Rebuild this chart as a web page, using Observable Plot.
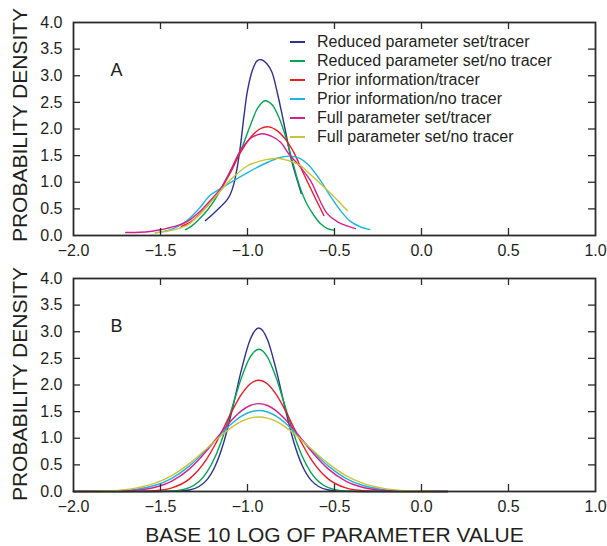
<!DOCTYPE html>
<html><head><meta charset="utf-8">
<script src="https://cdn.jsdelivr.net/npm/d3@7"></script>
<script src="https://cdn.jsdelivr.net/npm/@observablehq/plot@0.6"></script>
<style>
body{margin:0;background:#fff;font-family:"Liberation Sans",Arial,sans-serif;}
#wrap{position:relative;width:607px;height:546px;}
#wrap svg{display:block;}
#legend{position:absolute;left:290px;top:32px;font-size:16px;color:#231f20;}
.row{height:19px;display:flex;align-items:center;white-space:nowrap;}
.sw{width:15px;height:2px;margin-right:12px;display:inline-block;flex:none;}
.ylab{position:absolute;left:19px;font-size:21px;color:#231f20;white-space:nowrap;transform:translate(-50%,-50%) rotate(-90deg);line-height:1;}
</style></head><body><div id="wrap"><div id="legend"></div></div>
<script>
const seriesNames = ["Reduced parameter set/tracer","Reduced parameter set/no tracer","Prior information/tracer","Prior information/no tracer","Full parameter set/tracer","Full parameter set/no tracer"];
const seriesColors = ["#2e3192","#00a651","#ed1c24","#1cb5e0","#d4208f","#c9c33a"];
const xTicks = [-2,-1.5,-1,-0.5,0,0.5,1];
const yTicks = [0,0.5,1,1.5,2,2.5,3,3.5,4];

// Panel A: [x, density]
const aReducedTracer = [[-1.241,0.28],[-1.20,0.40],[-1.155,0.54],[-1.12,0.66],[-1.098,0.78],[-1.08,0.95],[-1.059,1.28],[-1.04,1.70],[-1.02,2.25],[-1.0,2.72],[-0.97,3.12],[-0.945,3.28],[-0.92,3.30],[-0.89,3.23],[-0.86,3.07],[-0.83,2.70],[-0.80,2.25],[-0.772,1.80],[-0.75,1.45],[-0.72,1.10],[-0.691,0.79]];
const aReducedNoTracer = [[-1.356,0.11],[-1.32,0.18],[-1.28,0.30],[-1.232,0.47],[-1.19,0.66],[-1.155,0.86],[-1.10,1.20],[-1.04,1.59],[-0.98,2.10],[-0.94,2.40],[-0.90,2.53],[-0.86,2.46],[-0.82,2.22],[-0.78,1.85],[-0.734,1.30],[-0.70,0.92],[-0.66,0.60],[-0.619,0.38],[-0.58,0.22],[-0.54,0.13],[-0.504,0.10]];
const aPriorTracer = [[-1.38,0.17],[-1.32,0.27],[-1.26,0.45],[-1.21,0.64],[-1.155,0.86],[-1.10,1.17],[-1.04,1.56],[-0.98,1.85],[-0.93,2.00],[-0.878,2.04],[-0.83,1.97],[-0.78,1.80],[-0.734,1.56],[-0.69,1.25],[-0.657,1.02],[-0.61,0.70],[-0.561,0.375]];
const aPriorNoTracer = [[-1.529,0.05],[-1.45,0.10],[-1.40,0.17],[-1.347,0.28],[-1.28,0.50],[-1.213,0.76],[-1.155,0.88],[-1.079,1.03],[-1.0,1.18],[-0.944,1.28],[-0.88,1.38],[-0.82,1.46],[-0.753,1.49],[-0.70,1.45],[-0.65,1.33],[-0.58,1.03],[-0.52,0.72],[-0.466,0.47],[-0.41,0.27],[-0.35,0.16],[-0.297,0.11]];
const aFullTracer = [[-1.70,0.056],[-1.62,0.06],[-1.55,0.08],[-1.50,0.107],[-1.42,0.17],[-1.347,0.26],[-1.28,0.43],[-1.213,0.66],[-1.155,0.88],[-1.10,1.20],[-1.04,1.60],[-0.98,1.83],[-0.916,1.91],[-0.86,1.86],[-0.81,1.75],[-0.76,1.52],[-0.70,1.30],[-0.638,1.03],[-0.59,0.70],[-0.542,0.41],[-0.48,0.25],[-0.42,0.17],[-0.379,0.13]];
const aFullNoTracer = [[-1.53,0.05],[-1.45,0.09],[-1.40,0.13],[-1.347,0.19],[-1.28,0.38],[-1.213,0.62],[-1.155,0.84],[-1.10,1.04],[-1.0,1.31],[-0.964,1.36],[-0.90,1.42],[-0.829,1.45],[-0.78,1.42],[-0.70,1.32],[-0.64,1.15],[-0.58,0.97],[-0.50,0.72],[-0.427,0.47]];

// Panel B: shared x values, density per series
const bX = [-2.0,-1.785,-1.635,-1.535,-1.435,-1.335,-1.235,-1.185,-1.135,-1.085,-1.035,-0.985,-0.935,-0.885,-0.835,-0.785,-0.735,-0.685,-0.635,-0.535,-0.435,-0.335,-0.235,-0.085,0.15];
const bReducedTracer = [0,0,0,0,0.002,0.027,0.214,0.483,0.940,1.578,2.284,2.851,3.07,2.851,2.284,1.578,0.940,0.483,0.214,0.027,0.002,0,0,0,0];
const bReducedNoTracer = [0,0,0,0.001,0.010,0.074,0.356,0.658,1.090,1.613,2.134,2.524,2.67,2.524,2.134,1.613,1.090,0.658,0.356,0.074,0.010,0.001,0,0,0];
const bPriorTracer = [0,0,0.003,0.015,0.068,0.233,0.608,0.887,1.207,1.535,1.822,2.020,2.09,2.020,1.822,1.535,1.207,0.887,0.608,0.233,0.068,0.015,0.003,0,0];
const bPriorNoTracer = [0,0.008,0.043,0.112,0.248,0.476,0.791,0.966,1.137,1.291,1.414,1.493,1.52,1.493,1.414,1.291,1.137,0.966,0.791,0.476,0.248,0.112,0.043,0.008,0];
const bFullTracer = [0,0.003,0.025,0.076,0.195,0.420,0.764,0.967,1.172,1.361,1.515,1.615,1.65,1.615,1.515,1.361,1.172,0.967,0.764,0.420,0.195,0.076,0.025,0.003,0];
const bFullNoTracer = [0.001,0.016,0.069,0.153,0.300,0.523,0.804,0.953,1.094,1.219,1.316,1.379,1.40,1.379,1.316,1.219,1.094,0.953,0.804,0.523,0.300,0.153,0.069,0.016,0.001];

const yLabel = "PROBABILITY DENSITY";
const xLabel = "BASE 10 LOG OF PARAMETER VALUE";

const aSets = [aReducedTracer,aReducedNoTracer,aPriorTracer,aPriorNoTracer,aFullTracer,aFullNoTracer];
const bSets = [bReducedTracer,bReducedNoTracer,bPriorTracer,bPriorNoTracer,bFullTracer,bFullNoTracer];
const aData = aSets.flatMap((pts,i)=>pts.map(([x,y])=>({s:seriesNames[i],x,y})));
const bData = bSets.flatMap((ys,i)=>ys.map((y,j)=>({s:seriesNames[i],x:bX[j],y})));

const fmt = d => d.toFixed(1).replace("-", "\u2212");
const W = 522, H = 213, ink = "#2b2b2b";

function panel({data, letter, height, marginTop, marginBottom, curve, extra = []}) {
  return Plot.plot({
    width: 607, height, marginLeft: 73, marginRight: 12, marginTop, marginBottom,
    style: {fontFamily: "'Liberation Sans', Arial, sans-serif", fontSize: "16px", color: "#231f20", background: "#fff", overflow: "visible"},
    x: {domain: [-2, 1], ticks: xTicks, tickFormat: fmt, tickSize: 0, tickPadding: 9, label: null},
    y: {domain: [0, 4], ticks: yTicks, tickFormat: fmt, tickSize: 0, tickPadding: 11, label: null},
    color: {domain: seriesNames, range: seriesColors},
    marks: [
      Plot.line(data, {x: "x", y: "y", z: "s", stroke: "s", strokeWidth: 1.4, curve}),
      Plot.ruleX(xTicks.slice(1, -1), {x: d => d, insetTop: H - 7, stroke: ink, strokeWidth: 1.3}),
      Plot.ruleX(xTicks.slice(1, -1), {x: d => d, insetBottom: H - 7, stroke: ink, strokeWidth: 1.3}),
      Plot.ruleY(yTicks.slice(1, -1), {y: d => d, insetRight: W - 7, stroke: ink, strokeWidth: 1.3}),
      Plot.ruleY(yTicks.slice(1, -1), {y: d => d, insetLeft: W - 7, stroke: ink, strokeWidth: 1.3}),
      Plot.frame({stroke: ink, strokeWidth: 1.8}),
      Plot.text([letter], {text: d => d, frameAnchor: "top-left", dx: 43, dy: 48, textAnchor: "middle", lineAnchor: "middle", fontSize: 18, fill: "#231f20"}),
      ...extra
    ]
  });
}

const wrap = document.getElementById("wrap");
wrap.appendChild(panel({data: aData, letter: "A", height: 260, marginTop: 22, marginBottom: 25, curve: "catmull-rom"}));
wrap.appendChild(panel({data: bData, letter: "B", height: 286, marginTop: 18, marginBottom: 55, curve: "monotone-x",
  extra: [Plot.text([xLabel], {text: d => d, frameAnchor: "bottom", dy: 44, lineAnchor: "middle", fontSize: 21, fill: "#231f20"})]}));

[124.5, 383.5].forEach(cy => {
  const d = document.createElement("div"); d.className = "ylab"; d.style.top = cy + "px"; d.textContent = yLabel; wrap.appendChild(d);
});

const legend = document.getElementById("legend");
seriesNames.forEach((n, i) => {
  const row = document.createElement("div"); row.className = "row";
  const sw = document.createElement("span"); sw.className = "sw"; sw.style.background = seriesColors[i];
  const t = document.createElement("span"); t.textContent = n;
  row.appendChild(sw); row.appendChild(t); legend.appendChild(row);
});
</script></body></html>
